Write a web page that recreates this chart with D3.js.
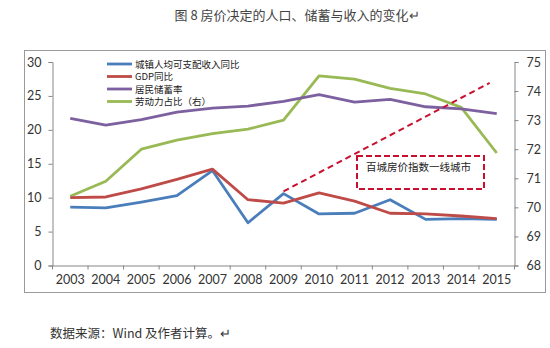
<!DOCTYPE html>
<html>
<head>
<meta charset="utf-8">
<script src="https://cdn.jsdelivr.net/npm/d3@7"></script>
<style>
body { margin: 0; background: #fff; }
text { font-family: Lato, "Noto Sans CJK SC", sans-serif; }
.cjk { font-family: "Noto Sans CJK SC", sans-serif; }
</style>
</head>
<body>
<div id="chart"></div>
<script>
var width = 550;
var height = 348;

// datos
var years = ["2003","2004","2005","2006","2007","2008","2009","2010","2011","2012","2013","2014","2015"];
var ingreso = [8.6, 8.5, 9.35, 10.3, 14.0, 6.3, 10.6, 7.6, 7.7, 9.7, 6.8, 6.9, 6.8];
var gdp = [10.0, 10.1, 11.3, 12.7, 14.2, 9.7, 9.2, 10.7, 9.5, 7.7, 7.6, 7.3, 6.9];
var ahorro = [21.7, 20.7, 21.5, 22.6, 23.2, 23.5, 24.2, 25.2, 24.1, 24.5, 23.4, 23.1, 22.4];
var trabajo = [70.38, 70.9, 72.0, 72.31, 72.54, 72.69, 73.0, 74.52, 74.41, 74.09, 73.9, 73.44, 71.87];
var leftTicks = [0, 5, 10, 15, 20, 25, 30];
var rightTicks = [68, 69, 70, 71, 72, 73, 74, 75];
var nombres = ["城镇人均可支配收入同比", "GDP同比", "居民储蓄率", "劳动力占比（右）"];
var colores = ["#4A7EBB", "#BE4B48", "#7D60A0", "#98B954"];
// linea punteada: posicion en anos (indice) y valor eje derecho
var flechaX = [6.0, 11.8];
var flechaY = [70.55, 74.28];

var canvas = d3.select("#chart")
	.append("svg")
	.attr("width", width)
	.attr("height", height);

var x = d3.scaleBand().domain(years).range([52.5, 514.5]).paddingInner(0).paddingOuter(0);
var xi = d3.scaleLinear().domain([0, 12]).range([x(years[0]) + x.bandwidth()/2, x(years[12]) + x.bandwidth()/2]);
var yL = d3.scaleLinear().domain([0, 30]).range([265.5, 62]);
var yR = d3.scaleLinear().domain([68, 75]).range([265.5, 62]);

// titulo
canvas.append("text")
	.attr("class", "cjk")
	.attr("x", 297).attr("y", 20)
	.attr("text-anchor", "middle")
	.attr("font-size", 13)
	.attr("fill", "#444")
	.text("图 8 房价决定的人口、储蓄与收入的变化↵");

// marco
canvas.append("rect")
	.attr("x", 24.5).attr("y", 50.5)
	.attr("width", 521).attr("height", 242)
	.attr("fill", "none")
	.attr("stroke", "#9a9a9a");

// ejes
var ejeIzq = canvas.append("g")
	.attr("transform", "translate(52.5,0)")
	.call(d3.axisLeft(yL).tickValues(leftTicks).tickSize(4).tickPadding(7).tickFormat(d3.format("d")));
var ejeDer = canvas.append("g")
	.attr("transform", "translate(514.5,0)")
	.call(d3.axisRight(yR).tickValues(rightTicks).tickSize(4).tickPadding(8).tickFormat(d3.format("d")));
var ejeX = canvas.append("g")
	.attr("transform", "translate(0,265.5)")
	.call(d3.axisBottom(x).tickSize(0).tickPadding(10));

// marcas del eje x entre categorias
canvas.append("g").selectAll("line")
	.data(years.concat(["fin"]))
	.enter().append("line")
	.attr("x1", function(d, i) { return 52.5 + i * x.bandwidth(); })
	.attr("x2", function(d, i) { return 52.5 + i * x.bandwidth(); })
	.attr("y1", 265.5).attr("y2", 269.5)
	.attr("stroke", "#868686");

[ejeIzq, ejeDer, ejeX].forEach(function(g) {
	g.select(".domain").attr("stroke", "#868686");
	g.selectAll(".tick line").attr("stroke", "#868686");
	g.selectAll("text").attr("font-size", 12.5).attr("fill", "#333").attr("font-family", "Lato, sans-serif");
});

// lineas
var series = [
	{v: ingreso, y: yL},
	{v: gdp, y: yL},
	{v: ahorro, y: yL},
	{v: trabajo, y: yR}
];
var orden = [3, 2, 0, 1];
orden.forEach(function(k) {
	var s = series[k];
	var linea = d3.line()
		.x(function(d, i) { return x(years[i]) + x.bandwidth()/2; })
		.y(function(d) { return s.y(d); });
	canvas.append("path")
		.datum(s.v)
		.attr("d", linea)
		.attr("fill", "none")
		.attr("stroke", colores[k])
		.attr("stroke-width", 2.8)
		.attr("stroke-linejoin", "round");
});

// flecha punteada
canvas.append("line")
	.attr("x1", xi(flechaX[0])).attr("y1", yR(flechaY[0]))
	.attr("x2", xi(flechaX[1])).attr("y2", yR(flechaY[1]))
	.attr("stroke", "#C8102E")
	.attr("stroke-width", 2)
	.attr("stroke-dasharray", "6,4");

// caja
canvas.append("rect")
	.attr("x", 357).attr("y", 156)
	.attr("width", 127).attr("height", 33)
	.attr("fill", "#fff")
	.attr("stroke", "#C8102E")
	.attr("stroke-width", 2)
	.attr("stroke-dasharray", "6,3");
canvas.append("text")
	.attr("class", "cjk")
	.attr("x", 366).attr("y", 171)
	.attr("font-size", 10.5)
	.attr("fill", "#222")
	.text("百城房价指数一线城市");

// leyenda
var leyenda = canvas.append("g");
nombres.forEach(function(n, i) {
	var yy = 64 + i * 12.5;
	leyenda.append("line")
		.attr("x1", 107).attr("x2", 132)
		.attr("y1", yy).attr("y2", yy)
		.attr("stroke", colores[i])
		.attr("stroke-width", 2.8);
	leyenda.append("text")
		.attr("class", "cjk")
		.attr("x", 135).attr("y", yy + 3.5)
		.attr("font-size", 9.5)
		.attr("fill", "#222")
		.text(n);
});

// fuente
canvas.append("text")
	.attr("class", "cjk")
	.attr("x", 50).attr("y", 338)
	.attr("font-size", 12.5)
	.attr("fill", "#333")
	.text("数据来源：Wind 及作者计算。↵");
</script>
</body>
</html>
